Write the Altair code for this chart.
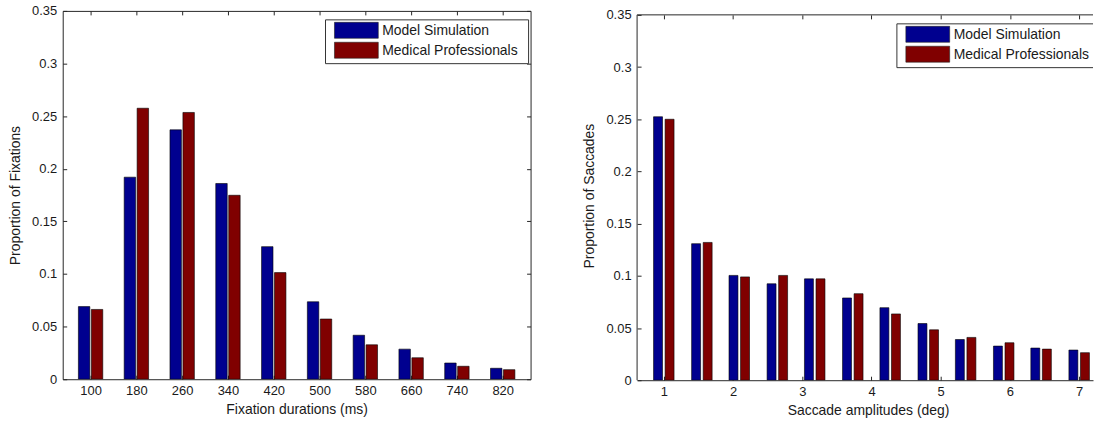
import altair as alt
import pandas as pd

# ---------------- data ----------------
series = ["Model Simulation", "Medical Professionals"]
colors = ["#00008F", "#800000"]

fix_bins = [100, 180, 260, 340, 420, 500, 580, 660, 740, 820]
fix_model = [0.069, 0.192, 0.237, 0.186, 0.126, 0.0736, 0.0418, 0.0286, 0.0154, 0.0104]
fix_medical = [0.0663, 0.2575, 0.2535, 0.1748, 0.1013, 0.0572, 0.0327, 0.0204, 0.0123, 0.0091]

sac_bins = [1.0, 1.55, 2.09, 2.64, 3.18, 3.73, 4.27, 4.82, 5.36, 5.91, 6.45, 7.0]
sac_model = [0.2524, 0.1308, 0.1004, 0.0924, 0.0971, 0.0788, 0.0695, 0.0543, 0.039, 0.0327, 0.0308, 0.0289]
sac_medical = [0.250, 0.132, 0.099, 0.1004, 0.0971, 0.0829, 0.0635, 0.0483, 0.041, 0.0359, 0.0298, 0.0264]

y_ticks = [0, 0.05, 0.1, 0.15, 0.2, 0.25, 0.3, 0.35]
fix_ticks = [100, 180, 260, 340, 420, 500, 580, 660, 740, 820]
sac_ticks = [1, 2, 3, 4, 5, 6, 7]

AX = "#262626"
TXT = "#1a1a1a"


def panel(bins, model, medical, x_domain, y_top, x_ticks, x_title, y_title, w, h,
          bar_w, bar_off, right_border, x_title_x, inset):
    # inset: pixels between the plot's top edge and the drawn top border
    df_m = pd.DataFrame({"x": bins, "v": model})
    df_p = pd.DataFrame({"x": bins, "v": medical})
    xs = alt.Scale(domain=x_domain, nice=False, zero=False)
    ys = alt.Scale(domain=[0, y_top], nice=False)

    bottom_axis = alt.Axis(orient="bottom", values=x_ticks, ticks=False, domain=True,
                           grid=False, labelFontSize=13, labelPadding=5, labelAngle=0,
                           title=x_title, titleFontSize=14, titlePadding=5,
                           titleX=x_title_x, labelFlush=False)
    left_axis = alt.Axis(orient="left", values=y_ticks, format="~g", ticks=False,
                         domain=(inset == 0), grid=False, labelFontSize=13, labelPadding=6,
                         title=y_title, titleFontSize=14, titlePadding=9)
    top_axis = alt.Axis(orient="top", values=x_ticks, ticks=False, labels=False,
                        domain=(inset == 0), grid=False, title=None)
    right_axis = alt.Axis(orient="right", values=y_ticks, ticks=False, labels=False,
                          domain=True, grid=False, title=None)
    bt_ticks = alt.Axis(orient="bottom", values=x_ticks, ticks=True, tickSize=4,
                        offset=-4, labels=False, domain=False, grid=False, title=None)
    lf_ticks = alt.Axis(orient="left", values=y_ticks, ticks=True, tickSize=4,
                        offset=-4, labels=False, domain=False, grid=False, title=None)
    tp_ticks = alt.Axis(orient="top", values=x_ticks, ticks=True, tickSize=4,
                        offset=-4 - inset, labels=False, domain=False, grid=False, title=None)
    rt_ticks = alt.Axis(orient="right", values=y_ticks, ticks=True, tickSize=4,
                        offset=-4, labels=False, domain=False, grid=False, title=None)

    blue = alt.Chart(df_m).mark_bar(width=bar_w, xOffset=-bar_off, color=colors[0],
                                    stroke="black", strokeWidth=0.6, clip=True).encode(
        x=alt.X("x:Q", scale=xs, axis=bottom_axis),
        y=alt.Y("v:Q", scale=ys, axis=left_axis))
    red = alt.Chart(df_p).mark_bar(width=bar_w, xOffset=bar_off, color=colors[1],
                                   stroke="black", strokeWidth=0.6, clip=True).encode(
        x=alt.X("x:Q", scale=xs, axis=top_axis),
        y=alt.Y("v:Q", scale=ys, axis=right_axis if right_border else None))
    ticks1 = alt.Chart(df_m).mark_point(opacity=0).encode(
        x=alt.X("x:Q", scale=xs, axis=bt_ticks),
        y=alt.Y("v:Q", scale=ys, axis=lf_ticks))
    ticks2 = alt.Chart(df_p).mark_point(opacity=0).encode(
        x=alt.X("x:Q", scale=xs, axis=tp_ticks),
        y=alt.Y("v:Q", scale=ys, axis=rt_ticks if right_border else None))
    layers = [blue, red, ticks1, ticks2]

    if inset:
        top_val = y_ticks[-1]
        border_l = alt.Chart(pd.DataFrame({"s": [0]})).mark_rule(
            color=AX, strokeWidth=1).encode(
            x=alt.value(0), y=alt.YDatum(top_val, axis=None), y2=alt.Y2Datum(0))
        border_t = alt.Chart(pd.DataFrame({"s": [0]})).mark_rule(
            color=AX, strokeWidth=1).encode(
            x=alt.value(0), x2=alt.value(w), y=alt.YDatum(top_val, axis=None))
        layers += [border_l, border_t]

    # legend box (drawn inside the plot, clipped like the original)
    bx = 264 if right_border else 261
    by = 9 + inset
    box = alt.Chart(pd.DataFrame({"s": [0]})).mark_rect(
        fill="white", stroke="#333333", strokeWidth=1, clip=True).encode(
        x=alt.value(bx), x2=alt.value(bx + 204), y=alt.value(by), y2=alt.value(by + 44))
    layers.append(box)
    for i in range(2):
        y0 = by + 2.5 + 20 * i
        sw = alt.Chart(pd.DataFrame({"s": [series[i]]})).mark_rect(
            color=colors[i], stroke="#222222", strokeWidth=0.6, clip=True).encode(
            x=alt.value(bx + 9), x2=alt.value(bx + 53), y=alt.value(y0), y2=alt.value(y0 + 16))
        tx = alt.Chart(pd.DataFrame({"s": [series[i]]})).mark_text(
            align="left", baseline="middle", fontSize=14, color=TXT, clip=True).encode(
            x=alt.value(bx + 57), y=alt.value(y0 + 8.5), text="s:N")
        layers += [sw, tx]

    return alt.layer(*layers).resolve_axis(
        x="independent", y="independent").properties(width=w, height=h)


left = panel(fix_bins, fix_model, fix_medical, [60, 860], 0.35, fix_ticks,
             "Fixation durations (ms)", "Proportion of Fixations",
             470, 370, 11.5, 6.5, True, 235, 0)
right = panel(sac_bins, sac_model, sac_medical, [0.686, 7.128], 0.3538, sac_ticks,
              "Saccade amplitudes (deg)", "Proportion of Saccades",
              458, 371, 9, 5.8, False, 232, 4)

chart = alt.hconcat(left, right, spacing=51).properties(
    padding={"left": 8, "top": 4, "right": 0, "bottom": 0}
).configure(font="Liberation Sans").configure_axis(
    labelColor=TXT, titleColor=TXT, domainColor=AX, tickColor=AX,
    titleFontWeight="normal", labelFont="Liberation Sans", titleFont="Liberation Sans"
).configure_view(stroke=None)

chart.save("out.html", embed_options={"renderer": "svg", "actions": False})
